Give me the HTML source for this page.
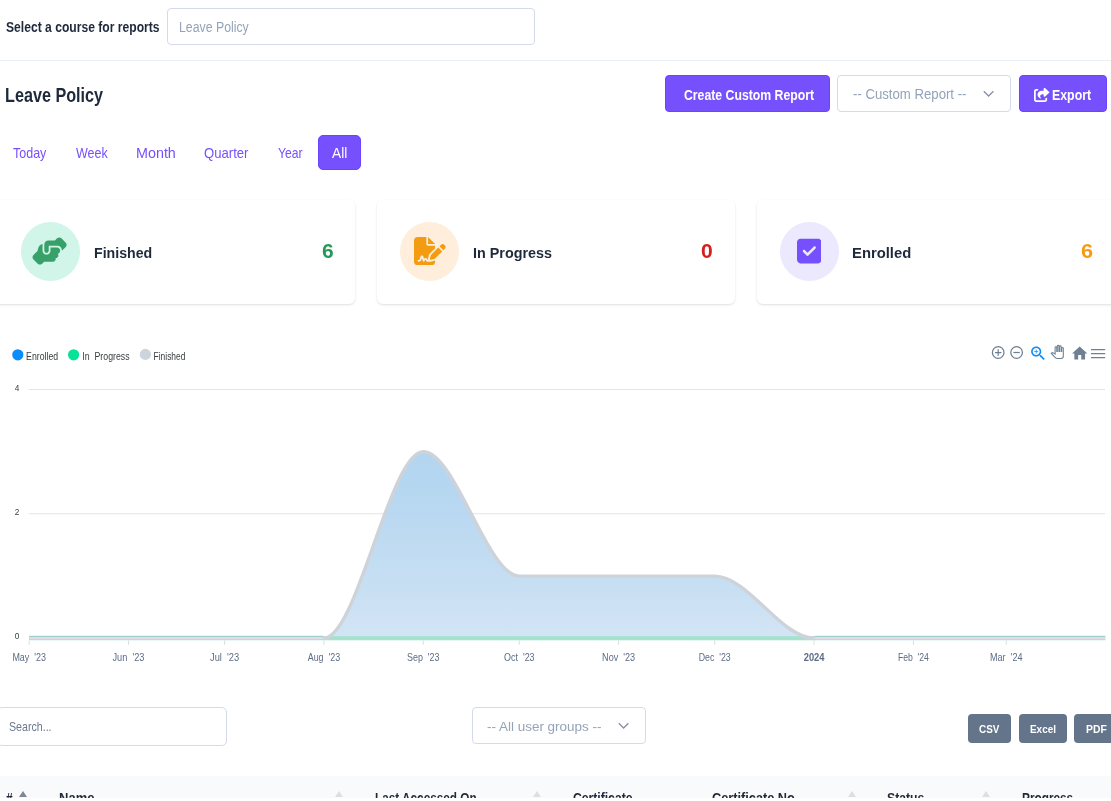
<!DOCTYPE html>
<html lang="en">
<head>
<meta charset="utf-8">
<title>Leave Policy Reports</title>
<style>
*{box-sizing:border-box;margin:0;padding:0}
html,body{width:1111px;height:801px;background:#fff;overflow:hidden}
body{font-family:"Liberation Sans",sans-serif;color:#1e293b;position:relative}
#wrap{position:absolute;left:0;top:0;width:1111px;height:798px;overflow:hidden;background:#fff}
.abs{position:absolute;white-space:nowrap}
.t{position:absolute;white-space:nowrap;display:inline-block;transform-origin:0 0;line-height:1}
.b{font-weight:bold}
.box{border:1px solid #d5dbe8;border-radius:4px;background:#fff}
.hr{left:0;top:59.5px;width:1111px;height:1px;background:#eaeff6}
.btn{background:#7650fc;border:1px solid #6b44fc;border-radius:4px}
.ph{color:#94a3b8}
.pu{color:#7650fc}
.wh{color:#fff}
.card{top:199.6px;height:104.3px;background:#fff;border-radius:6px;box-shadow:0 1px 3px 0 rgba(0,0,0,.085),0 1px 2px 0 rgba(0,0,0,.05)}
.circ{top:222px;width:59px;height:59px;border-radius:50%}
.sb{top:714px;height:29px;background:#64748b;border-radius:4px}
.ar{top:790.5px;width:0;height:0;border-left:4.4px solid transparent;border-right:4.4px solid transparent;border-bottom:6.5px solid #dcdfe5}
</style>
</head>
<body>
<div id="wrap">
  <span id="t1" class="t b" style="left:6.00px;top:20.00px;font-size:14.2px;transform:scaleX(0.8544)">Select a course for reports</span>
  <div class="abs box" style="left:167px;top:8px;width:368px;height:37px"></div>
  <span id="t2" class="t ph" style="left:179.00px;top:20.00px;font-size:14.0px;transform:scaleX(0.8786)">Leave Policy</span>
  <div class="abs hr"></div>
  <span id="t3" class="t b" style="left:5.00px;top:86.00px;font-size:19.3px;transform:scaleX(0.8397)">Leave Policy</span>

  <div class="abs btn" style="left:665px;top:75.2px;width:165px;height:37px"></div>
  <span id="t4" class="t b wh" style="left:684.00px;top:88.00px;font-size:14.2px;transform:scaleX(0.8641)">Create Custom Report</span>
  <div class="abs box" style="left:837px;top:75px;width:174px;height:37px"></div>
  <span id="t5" class="t ph" style="left:853.00px;top:88.00px;font-size:13.8px;transform:scaleX(0.9548)">-- Custom Report --</span>
  <svg class="abs" style="left:982px;top:89px" width="13" height="10" viewBox="0 0 13 10"><path d="M1.800 2.200 L6.600 7 L11.400 2.200" fill="none" stroke="#8a93a6" stroke-width="1.400"/></svg>
  <div class="abs btn" style="left:1019px;top:75.2px;width:88px;height:37px"></div>
  <span id="t6" class="t b wh" style="left:1052.00px;top:88.00px;font-size:14.2px;transform:scaleX(0.8703)">Export</span>

  <span id="t7" class="t pu" style="left:13.00px;top:146.00px;font-size:14.1px;transform:scaleX(0.8873)">Today</span>
  <span id="t8" class="t pu" style="left:76.00px;top:146.00px;font-size:14.1px;transform:scaleX(0.8859)">Week</span>
  <span id="t9" class="t pu" style="left:136.00px;top:146.00px;font-size:14.1px;transform:scaleX(1.0170)">Month</span>
  <span id="t10" class="t pu" style="left:204.00px;top:146.00px;font-size:14.1px;transform:scaleX(0.9306)">Quarter</span>
  <span id="t11" class="t pu" style="left:278.00px;top:146.00px;font-size:14.1px;transform:scaleX(0.8658)">Year</span>
  <div class="abs btn" style="left:317.500px;top:134.500px;width:43.500px;height:35.500px;border-radius:5px"></div>
  <span id="t12" class="t wh" style="left:332.00px;top:146.00px;font-size:14.1px;transform:scaleX(0.9712)">All</span>

  <div class="abs card" style="left:-8px;width:362.9px"></div>
  <div class="abs card" style="left:377px;width:358.2px"></div>
  <div class="abs card" style="left:757px;width:363px"></div>
  <div class="abs circ" style="left:20.9px;background:#d1f5e9"></div>
  <div class="abs circ" style="left:399.9px;background:#feeedb"></div>
  <div class="abs circ" style="left:779.6px;background:#ece9fe"></div>
  <svg class="abs" style="left:32px;top:237.3px" width="35.20" height="28.16" viewBox="0 0 640 512"><path fill="#38a169" d="M544 248v3.300l69.700-69.700c21.900-21.900 21.900-57.300 0-79.200L535.600 24.400c-21.900-21.900-57.300-21.900-79.200 0L416.300 64.500c-2.700-.3-5.500-.5-8.300-.5H296c-37.100 0-67.600 28-71.600 64H224V248c0 22.100 17.900 40 40 40s40-17.900 40-40V176c0 0 0-.1 0-.1V160l16 0 136 0c0 0 0 0 .1 0H464c44.200 0 80 35.800 80 80v8zM336 192v56c0 39.800-32.200 72-72 72s-72-32.200-72-72V129.400c-35.900 6.200-65.800 32.300-76 68.200L99.500 255.200 26.300 328.400c-21.900 21.900-21.900 57.300 0 79.200l78.100 78.100c21.900 21.900 57.300 21.900 79.200 0l37.700-37.700c.9 0 1.800 .1 2.700 .1H384c26.500 0 48-21.500 48-48c0-5.600-1-11-2.700-16H432c26.500 0 48-21.500 48-48c0-12.800-5-24.400-13.200-33c25.700-5 45.100-27.600 45.200-54.800v-.4c-.1-30.800-25.100-55.800-56-55.800c0 0 0 0 0 0l-120 0z"/></svg>
  <svg class="abs" style="left:414.25px;top:236.9px" width="31.68" height="28.16" viewBox="0 0 576 512"><path fill="#f39c12" d="M64 0C28.700 0 0 28.700 0 64V448c0 35.300 28.700 64 64 64H320c35.300 0 64-28.700 64-64V428.700c-2.700 1.100-5.400 2-8.200 2.700l-60.100 15c-3 .7-6 1.200-9 1.400c-.9 .1-1.800 .2-2.700 .2H240c-6.100 0-11.600-3.400-14.300-8.800l-8.800-17.700c-1.700-3.400-5.100-5.500-8.800-5.500s-7.200 2.100-8.800 5.500l-8.800 17.700c-2.900 5.900-9.200 9.400-15.700 8.800s-12.100-5.100-13.900-11.300L144 381l-9.800 32.800c-6.100 20.300-24.800 34.200-46 34.200H80c-8.800 0-16-7.200-16-16s7.200-16 16-16h8.200c7.100 0 13.300-4.600 15.300-11.400l14.900-49.500c3.400-11.300 13.800-19.100 25.600-19.100s22.200 7.800 25.600 19.100l11.600 38.600c7.400-6.200 16.800-9.700 26.800-9.700c15.900 0 30.400 9 37.500 23.200l4.400 8.800h8.900c-3.100-8.800-3.700-18.400-1.400-27.800l15-60.100c2.800-11.300 8.600-21.500 16.800-29.700L384 203.600V160H256c-17.700 0-32-14.300-32-32V0H64zM256 0V128H384L256 0zM549.800 139.700c-15.600-15.600-40.900-15.600-56.600 0l-29.400 29.400 71 71 29.400-29.400c15.600-15.600 15.600-40.900 0-56.600l-14.400-14.400zM311.900 321c-4.100 4.100-7 9.200-8.400 14.900l-15 60.100c-1.400 5.500 .2 11.200 4.200 15.200s9.700 5.600 15.200 4.200l60.100-15c5.600-1.400 10.800-4.300 14.900-8.400L512.100 262.700l-71-71L311.900 321z"/></svg>
  <svg class="abs" style="left:796.8px;top:237.1px" width="24.64" height="28.16" viewBox="0 0 448 512"><path fill="#7650fc" d="M64 32C28.700 32 0 60.700 0 96V416c0 35.300 28.700 64 64 64H384c35.300 0 64-28.700 64-64V96c0-35.300-28.700-64-64-64H64zM337 209L209 337c-9.400 9.400-24.600 9.400-33.900 0l-64-64c-9.400-9.400-9.400-24.600 0-33.900s24.600-9.400 33.900 0l47 47L303 175c9.400-9.400 24.600-9.400 33.900 0s9.400 24.600 0 33.900z"/></svg>
  <svg class="abs" style="left:1034.1px;top:87.7px" width="15.75" height="14" viewBox="0 0 576 512"><path fill="#fff" d="M352 224H305.500c-45 0-81.500 36.500-81.500 81.500c0 22.300 10.300 34.300 19.200 40.500c6.800 4.700 12.800 12 12.800 20.300c0 9.800-8 17.800-17.800 17.800h-2.500c-2.400 0-4.800-.4-7.100-1.400C210.800 374.800 128 333.400 128 240c0-79.500 64.500-144 144-144h80V34.700C352 15.500 367.500 0 386.700 0c8.600 0 16.800 3.200 23.200 8.900L548.100 133.300c7.600 6.800 11.900 16.500 11.900 26.700s-4.300 19.900-11.900 26.700l-139 125.100c-5.900 5.300-13.500 8.200-21.400 8.200H384c-17.700 0-32-14.300-32-32V224zM80 96c-8.800 0-16 7.200-16 16V432c0 8.800 7.200 16 16 16H400c8.800 0 16-7.200 16-16V384c0-17.700 14.300-32 32-32s32 14.300 32 32v48c0 44.200-35.800 80-80 80H80c-44.200 0-80-35.800-80-80V112C0 67.800 35.800 32 80 32h48c17.700 0 32 14.300 32 32s-14.300 32-32 32H80z"/></svg>
  <span id="t13" class="t b" style="left:94.00px;top:246.00px;font-size:14.8px;transform:scaleX(0.9566)">Finished</span>
  <span id="t14" class="t b" style="left:473.00px;top:246.00px;font-size:14.8px;transform:scaleX(0.9710)">In Progress</span>
  <span id="t15" class="t b" style="left:852.00px;top:246.00px;font-size:14.8px;transform:scaleX(1.0007)">Enrolled</span>
  <span id="t16" class="t b" style="left:322.00px;top:242.00px;font-size:19.6px;color:#239b56;transform:scaleX(1.0697)">6</span>
  <span id="t17" class="t b" style="left:701.00px;top:242.00px;font-size:19.6px;color:#d3201f;transform:scaleX(1.0775)">0</span>
  <span id="t18" class="t b" style="left:1081.00px;top:242.00px;font-size:19.6px;color:#f59c14;transform:scaleX(1.1075)">6</span>
<svg class="abs" style="left:0;top:330px" width="1111" height="350" viewBox="0 330 1111 350" font-family="'Liberation Sans',sans-serif">
<defs><linearGradient id="ga" x1="0" y1="451" x2="0" y2="638" gradientUnits="userSpaceOnUse"><stop offset="0" stop-color="#acd2ef" stop-opacity=".93"/><stop offset=".33" stop-color="#b4d5f0" stop-opacity=".93"/><stop offset=".75" stop-color="#c4ddf2" stop-opacity=".93"/><stop offset="1" stop-color="#d0e3f4" stop-opacity=".93"/></linearGradient></defs>
<line x1="29" y1="389.5" x2="1105.2" y2="389.5" stroke="#e4e4e4" stroke-width="1"/>
<line x1="29" y1="513.7" x2="1105.2" y2="513.7" stroke="#e4e4e4" stroke-width="1"/>
<path d="M322.5 638.2 L323.9 638.2 C357.0 638.2 390.1 451.8 423.2 451.8 C455.3 451.8 487.3 576.1 519.3 576.1 L714.7 576.1 C747.9 576.1 781.0 638.2 814.1 638.2 L1105.6 638.2 L1105.6 638.2 L29.2 638.2 Z" fill="url(#ga)"/>
<rect x="29.2" y="636" width="1076" height="4" fill="#a6e4d1"/><rect x="29.2" y="638" width="1076" height="1" fill="#a8dccc"/><rect x="29.2" y="640" width="1076" height="1" fill="#e3f6f0"/>
<path d="M322.5 638.2 L323.9 638.2 C357.0 638.2 390.1 451.8 423.2 451.8 C455.3 451.8 487.3 576.1 519.3 576.1 L714.7 576.1 C747.9 576.1 781.0 638.2 814.1 638.2 L815.5 638.2" fill="none" stroke="#ced3da" stroke-width="3.4" stroke-linejoin="round"/>
<rect x="29.2" y="635" width="293.8" height="1" fill="#e6f5f5"/><rect x="29.2" y="636" width="293.8" height="1" fill="#9dd0d4"/><rect x="29.2" y="637" width="293.8" height="2" fill="#e3dcdf"/><rect x="29.2" y="639" width="293.8" height="1" fill="#b7dbde"/><rect x="29.2" y="640" width="293.8" height="1" fill="#ebf8f8"/>
<rect x="815" y="635" width="290.2" height="1" fill="#e6f5f5"/><rect x="815" y="636" width="290.2" height="1" fill="#9dd0d4"/><rect x="815" y="637" width="290.2" height="2" fill="#e3dcdf"/><rect x="815" y="639" width="290.2" height="1" fill="#b7dbde"/><rect x="815" y="640" width="290.2" height="1" fill="#ebf8f8"/>

<line x1="29.2" y1="640.5" x2="29.2" y2="644.8" stroke="#dcdcdc" stroke-width="1"/>
<line x1="128.5" y1="640.5" x2="128.5" y2="644.8" stroke="#dcdcdc" stroke-width="1"/>
<line x1="224.6" y1="640.5" x2="224.6" y2="644.8" stroke="#dcdcdc" stroke-width="1"/>
<line x1="323.9" y1="640.5" x2="323.9" y2="644.8" stroke="#dcdcdc" stroke-width="1"/>
<line x1="423.2" y1="640.5" x2="423.2" y2="644.8" stroke="#dcdcdc" stroke-width="1"/>
<line x1="519.3" y1="640.5" x2="519.3" y2="644.8" stroke="#dcdcdc" stroke-width="1"/>
<line x1="618.6" y1="640.5" x2="618.6" y2="644.8" stroke="#dcdcdc" stroke-width="1"/>
<line x1="714.7" y1="640.5" x2="714.7" y2="644.8" stroke="#dcdcdc" stroke-width="1"/>
<line x1="814.1" y1="640.5" x2="814.1" y2="644.8" stroke="#dcdcdc" stroke-width="1"/>
<line x1="913.4" y1="640.5" x2="913.4" y2="644.8" stroke="#dcdcdc" stroke-width="1"/>
<line x1="1006.3" y1="640.5" x2="1006.3" y2="644.8" stroke="#dcdcdc" stroke-width="1"/>
<text x="12.4" y="661" font-size="10.2" fill="#5d6c86" textLength="33.5" lengthAdjust="spacingAndGlyphs">May  '23</text>
<text x="112.5" y="661" font-size="10.2" fill="#5d6c86" textLength="32.0" lengthAdjust="spacingAndGlyphs">Jun  '23</text>
<text x="210.0" y="661" font-size="10.2" fill="#5d6c86" textLength="29.2" lengthAdjust="spacingAndGlyphs">Jul  '23</text>
<text x="307.7" y="661" font-size="10.2" fill="#5d6c86" textLength="32.4" lengthAdjust="spacingAndGlyphs">Aug  '23</text>
<text x="407.0" y="661" font-size="10.2" fill="#5d6c86" textLength="32.5" lengthAdjust="spacingAndGlyphs">Sep  '23</text>
<text x="504.1" y="661" font-size="10.2" fill="#5d6c86" textLength="30.5" lengthAdjust="spacingAndGlyphs">Oct  '23</text>
<text x="602.1" y="661" font-size="10.2" fill="#5d6c86" textLength="33.0" lengthAdjust="spacingAndGlyphs">Nov  '23</text>
<text x="698.7" y="661" font-size="10.2" fill="#5d6c86" textLength="32.0" lengthAdjust="spacingAndGlyphs">Dec  '23</text>
<text x="803.7" y="661" font-size="10.2" fill="#5d6c86" font-weight="bold" fill="#3b4a63" textLength="20.8" lengthAdjust="spacingAndGlyphs">2024</text>
<text x="897.9" y="661" font-size="10.2" fill="#5d6c86" textLength="31.0" lengthAdjust="spacingAndGlyphs">Feb  '24</text>
<text x="990.0" y="661" font-size="10.2" fill="#5d6c86" textLength="32.5" lengthAdjust="spacingAndGlyphs">Mar  '24</text>
<text x="14.8" y="390.6" font-size="9.9" fill="#373d3f" textLength="4.6" lengthAdjust="spacingAndGlyphs">4</text>
<text x="14.8" y="515.1" font-size="9.9" fill="#373d3f" textLength="4.6" lengthAdjust="spacingAndGlyphs">2</text>
<text x="14.8" y="638.8" font-size="9.9" fill="#373d3f" textLength="4.6" lengthAdjust="spacingAndGlyphs">0</text>
<circle cx="17.8" cy="354.8" r="5.6" fill="#0a8cfb"/>
<text x="26.1" y="360.2" font-size="10.3" fill="#373d3f" textLength="32" lengthAdjust="spacingAndGlyphs">Enrolled</text>
<circle cx="73.6" cy="354.8" r="5.6" fill="#06e297"/>
<text x="82.3" y="360.2" font-size="10.3" fill="#373d3f" textLength="47.3" lengthAdjust="spacingAndGlyphs">In  Progress</text>
<circle cx="145.4" cy="354.4" r="5.6" fill="#ced4dc"/>
<text x="153.6" y="360.2" font-size="10.3" fill="#373d3f" textLength="31.8" lengthAdjust="spacingAndGlyphs">Finished</text>
<g fill="none" stroke="#6e8192" stroke-width="1.25">
<circle cx="998.2" cy="352.5" r="5.8"/><path d="M995 352.5h6.4M998.2 349.3v6.4"/>
<circle cx="1016.6" cy="352.5" r="5.8"/><path d="M1013.4 352.5h6.4"/>
</g>
<g transform="translate(1028.79 344.04) scale(0.780)" fill="#0a8cfb"><path d="M15.500 14h-.79l-.28-.27C15.410 12.590 16 11.110 16 9.500 16 5.910 13.090 3 9.500 3S3 5.910 3 9.500 5.910 16 9.500 16c1.610 0 3.090-.59 4.230-1.570l.27.28v.79l5 4.990L20.490 19l-4.990-5zm-6 0C7.010 14 5 11.990 5 9.500S7.010 5 9.500 5 14 7.010 14 9.500 11.990 14 9.500 14z"/><path d="M12 10h-2v2H9v-2H7V9h2V7h1v2h2v1z"/></g>
<g transform="translate(1050.76 345.36) scale(0.545)"><path d="M23 5.500V20c0 2.200-1.800 4-4 4h-7.300c-1.080 0-2.100-.43-2.850-1.190L1 14.830s1.260-1.230 1.300-1.250c.22-.19.490-.29.790-.29.220 0 .42.060.6.160.4.010 4.310 2.460 4.310 2.460V4c0-.83.670-1.500 1.500-1.500S11 3.170 11 4v7h1V1.500c0-.83.670-1.500 1.500-1.500S15 .67 15 1.500V11h1V2.500c0-.83.670-1.500 1.500-1.500s1.500.67 1.500 1.500V11h1V5.500c0-.83.670-1.500 1.500-1.500s1.500.67 1.500 1.500z" fill="#fff" stroke="#6e8192" stroke-width="2"/></g>
<g transform="translate(1070.52 344.25) scale(0.765)" fill="#6e8192"><path d="M10 20v-6h4v6h5v-8h3L12 3 2 12h3v8z"/></g>
<path d="M1091 349.600h14.200M1091 353.600h14.200M1091 357.600h14.200" stroke="#6e8192" stroke-width="1.400" fill="none"/>
</svg>  <div class="abs box" style="left:-3px;top:707px;width:230px;height:38.500px;border-radius:5px"></div>
  <span id="t19" class="t" style="left:9.00px;top:721.00px;font-size:12.2px;color:#6b7a90;transform:scaleX(0.8730)">Search...</span>
  <div class="abs box" style="left:472px;top:707px;width:174px;height:37px"></div>
  <span id="t20" class="t ph" style="left:487.00px;top:720.00px;font-size:13.7px;transform:scaleX(0.9839)">-- All user groups --</span>
  <svg class="abs" style="left:617px;top:721px" width="13" height="10" viewBox="0 0 13 10"><path d="M1.800 2.200 L6.600 7 L11.400 2.200" fill="none" stroke="#8a93a6" stroke-width="1.400"/></svg>
  <div class="abs sb" style="left:968px;width:43px"></div>
  <div class="abs sb" style="left:1019px;width:48px"></div>
  <div class="abs sb" style="left:1074px;width:44px"></div>
  <span id="t21" class="t b wh" style="left:979.00px;top:724.00px;font-size:11.3px;transform:scaleX(0.8750)">CSV</span>
  <span id="t22" class="t b wh" style="left:1030.00px;top:724.00px;font-size:11.3px;transform:scaleX(0.8788)">Excel</span>
  <span id="t23" class="t b wh" style="left:1086.00px;top:724.00px;font-size:11.3px;transform:scaleX(0.9180)">PDF</span>
  <div class="abs" style="left:0;top:776px;width:1111px;height:22px;background:#f8fafc"></div>
  <span id="t24" class="t b" style="left:6.00px;top:791.00px;font-size:14.0px;transform:scaleX(0.8468)">#</span>
  <span id="t25" class="t b" style="left:59.00px;top:791.00px;font-size:14.0px;transform:scaleX(0.9294)">Name</span>
  <span id="t26" class="t b" style="left:375.00px;top:791.00px;font-size:14.0px;transform:scaleX(0.8413)">Last Accessed On</span>
  <span id="t27" class="t b" style="left:573.00px;top:791.00px;font-size:14.0px;transform:scaleX(0.8682)">Certificate</span>
  <span id="t28" class="t b" style="left:712.00px;top:791.00px;font-size:14.0px;transform:scaleX(0.9097)">Certificate No</span>
  <span id="t29" class="t b" style="left:887.00px;top:791.00px;font-size:14.0px;transform:scaleX(0.8737)">Status</span>
  <span id="t30" class="t b" style="left:1022.00px;top:791.00px;font-size:14.0px;transform:scaleX(0.8434)">Progress</span>
  <div class="abs ar" style="left:19px;border-bottom-color:#7d8798"></div>
  <div class="abs ar" style="left:334.500px"></div>
  <div class="abs ar" style="left:532.500px"></div>
  <div class="abs ar" style="left:848px"></div>
  <div class="abs ar" style="left:982px"></div>
</div>
</body>
</html>
